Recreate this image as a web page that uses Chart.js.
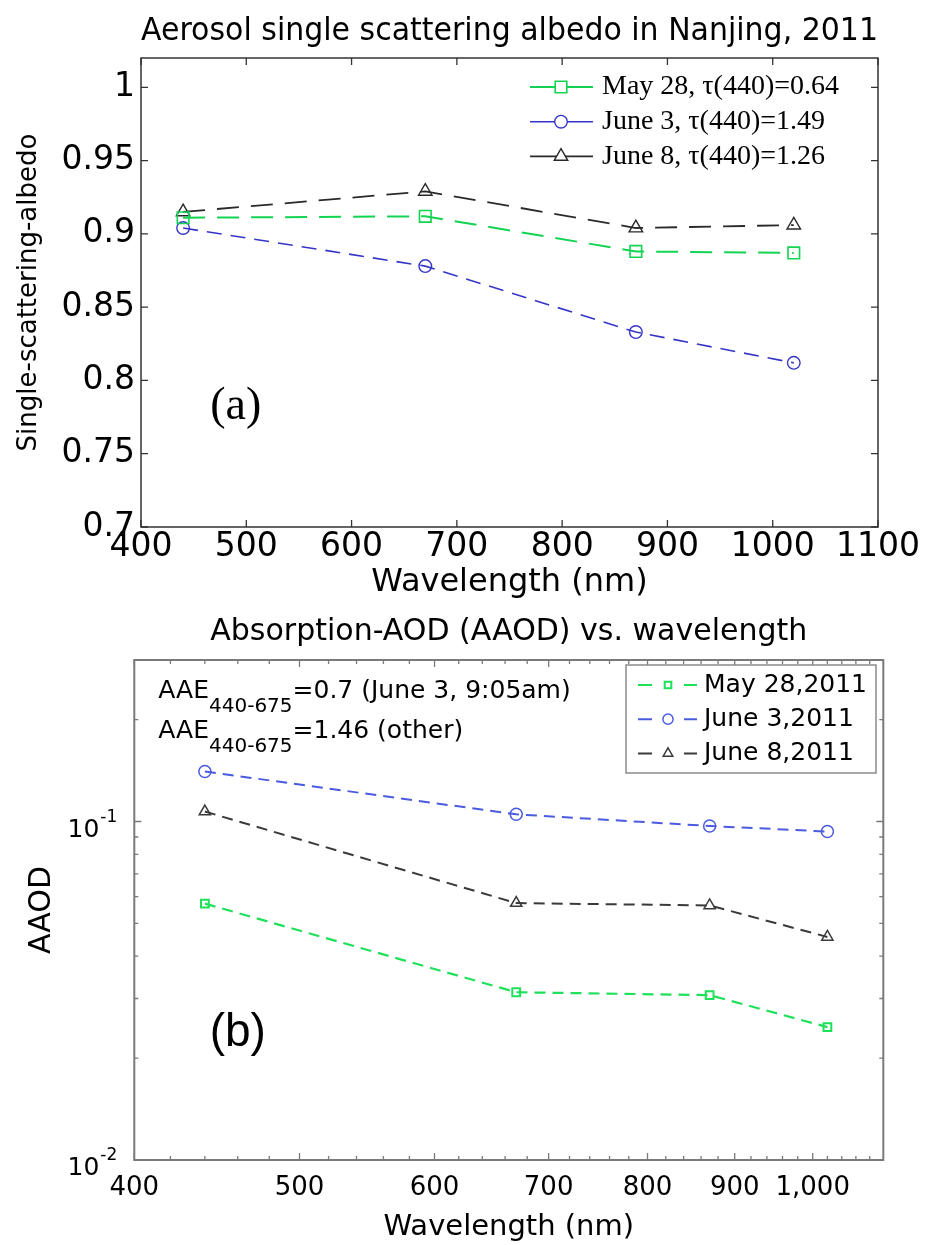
<!DOCTYPE html>
<html>
<head>
<meta charset="utf-8">
<script src="https://cdn.jsdelivr.net/npm/chart.js@4.4.0/dist/chart.umd.min.js"></script>
<style>
  html, body { margin: 0; padding: 0; background: #fff; }
  #wrap { position: relative; width: 934px; height: 1245px; }
  canvas { position: absolute; left: 0; }
</style>
</head>
<body>
<div id="wrap">
  <canvas id="ssaChart" width="934" height="612" style="top:0;width:934px;height:612px"></canvas>
  <canvas id="aaodChart" width="934" height="633" style="top:612px;width:934px;height:633px"></canvas>
</div>
<script>
// wavelengths (nm) shared by both panels
const wavelengths = [440, 670, 870, 1020];

// (a) single scattering albedo
const ssaMay28 = [0.911, 0.912, 0.888, 0.887];
const ssaJune3 = [0.904, 0.878, 0.833, 0.812];
const ssaJune8 = [0.915, 0.929, 0.904, 0.906];
const ssaLabels = ["May 28, τ(440)=0.64", "June 3, τ(440)=1.49", "June 8, τ(440)=1.26"];
const ssaXTicks = [400, 500, 600, 700, 800, 900, 1000, 1100];
const ssaYTicks = [0.7, 0.75, 0.8, 0.85, 0.9, 0.95, 1];
const ssaYTickLabels = ["0.7", "0.75", "0.8", "0.85", "0.9", "0.95", "1"];

// (b) absorption AOD
const aaodMay28 = [0.0572, 0.0313, 0.0307, 0.0247];
const aaodJune3 = [0.1405, 0.105, 0.097, 0.0934];
const aaodJune8 = [0.107, 0.0574, 0.0565, 0.0456];
const aaodLabels = ["May 28,2011", "June 3,2011", "June 8,2011"];
const aaodXTicks = [400, 500, 600, 700, 800, 900, 1000];
const aaodXTickLabels = ["400", "500", "600", "700", "800", "900", "1,000"];
const aaodYTicks = [0.01, 0.1];
const aaodYTickExp = ["-2", "-1"];
const aaodYMinor = [0.02, 0.03, 0.04, 0.05, 0.06, 0.07, 0.08, 0.09, 0.2, 0.3];

const SANS = '"DejaVu Sans", sans-serif';
const SERIF = '"Liberation Serif", serif';

const pts = (ys) => wavelengths.map((w, i) => ({ x: w, y: ys[i] }));

function markerPath(ctx, style, r, x, y) {
  ctx.beginPath();
  if (style === "rect") {
    const s = r * Math.SQRT1_2;
    ctx.rect(x - s, y - s, 2 * s, 2 * s);
  } else if (style === "triangle") {
    ctx.moveTo(x, y - r);
    ctx.lineTo(x + r * 0.866, y + r * 0.5);
    ctx.lineTo(x - r * 0.866, y + r * 0.5);
    ctx.closePath();
  } else {
    ctx.arc(x, y, r, 0, Math.PI * 2);
  }
}

// matlab style box with inward ticks on all four sides
const boxTicks = {
  id: "boxTicks",
  afterDraw(chart, args, o) {
    const { ctx, chartArea: a, scales } = chart;
    const sx = scales.x, sy = scales.y;
    ctx.save();
    ctx.strokeStyle = o.color;
    ctx.lineWidth = o.tickWidth;
    ctx.beginPath();
    const xt = (v, len) => {
      const p = sx.getPixelForValue(v);
      ctx.moveTo(p, a.bottom); ctx.lineTo(p, a.bottom - len);
      ctx.moveTo(p, a.top); ctx.lineTo(p, a.top + len);
    };
    const yt = (v, len) => {
      const p = sy.getPixelForValue(v);
      ctx.moveTo(a.left, p); ctx.lineTo(a.left + len, p);
      ctx.moveTo(a.right, p); ctx.lineTo(a.right - len, p);
    };
    (o.xMajor || []).forEach(v => xt(v, o.major));
    (o.xMinor || []).forEach(v => xt(v, o.minor));
    (o.yMajor || []).forEach(v => yt(v, o.major));
    (o.yMinor || []).forEach(v => yt(v, o.minor));
    ctx.stroke();
    ctx.lineWidth = o.boxWidth;
    ctx.strokeRect(a.left, a.top, a.right - a.left, a.bottom - a.top);
    ctx.restore();
  }
};

// legend drawn inside the axes, like the original figure
const innerLegend = {
  id: "innerLegend",
  afterDraw(chart, args, o) {
    if (!o.top) return;
    const { ctx } = chart;
    ctx.save();
    if (o.box) {
      ctx.fillStyle = "#fff";
      ctx.fillRect(o.box[0], o.box[1], o.box[2] - o.box[0], o.box[3] - o.box[1]);
      ctx.strokeStyle = o.boxColor;
      ctx.lineWidth = 1.5;
      ctx.strokeRect(o.box[0], o.box[1], o.box[2] - o.box[0], o.box[3] - o.box[1]);
    }
    chart.data.datasets.forEach((ds, i) => {
      const y = o.top + i * o.gap;
      ctx.strokeStyle = ds.borderColor;
      ctx.lineWidth = ds.borderWidth;
      ctx.setLineDash([]);
      ctx.beginPath();
      if (o.split) {
        ctx.moveTo(o.lineFrom, y); ctx.lineTo(o.markerX - o.split, y);
        ctx.moveTo(o.markerX + o.split, y); ctx.lineTo(o.lineTo, y);
      } else {
        ctx.moveTo(o.lineFrom, y); ctx.lineTo(o.lineTo, y);
      }
      ctx.stroke();
      ctx.lineWidth = ds.pointBorderWidth;
      ctx.fillStyle = "#fff";
      markerPath(ctx, ds.pointStyle, ds.pointRadius * o.markerScale, o.markerX, y);
      ctx.fill();
      ctx.stroke();
      ctx.fillStyle = "#000";
      ctx.font = o.font;
      ctx.textBaseline = "middle";
      ctx.textAlign = "left";
      ctx.fillText(ds.label, o.textX, y);
    });
    ctx.restore();
  }
};

// panel letters, text notes and power-of-ten tick labels
const notes = {
  id: "notes",
  afterDraw(chart, args, o) {
    const { ctx, chartArea: a, scales } = chart;
    ctx.save();
    ctx.fillStyle = "#000";
    (o.labels || []).forEach(l => {
      ctx.font = l.font;
      ctx.textAlign = "center";
      ctx.textBaseline = "middle";
      ctx.fillText(l.text, scales.x.getPixelForValue(l.x), scales.y.getPixelForValue(l.y));
    });
    (o.rich || []).forEach(line => {
      let x = a.left + line.dx;
      ctx.textAlign = "left";
      ctx.textBaseline = "alphabetic";
      line.parts.forEach(p => {
        ctx.font = p.font;
        ctx.fillText(p.t, x, a.top + line.dy + (p.dy || 0));
        x += ctx.measureText(p.t).width;
      });
    });
    if (o.powers) {
      const p = o.powers;
      p.values.forEach((v, i) => {
        const y = scales.y.getPixelForValue(v);
        const right = a.left - p.gap;
        ctx.font = p.expFont;
        const ew = ctx.measureText(p.exps[i]).width;
        ctx.textBaseline = "alphabetic";
        ctx.textAlign = "left";
        ctx.fillText(p.exps[i], right - ew, y + p.expDy);
        ctx.font = p.baseFont;
        ctx.textAlign = "right";
        ctx.fillText("10", right - ew - 1, y + p.baseDy);
      });
    }
    ctx.restore();
  }
};

function series(label, ys, color, style, radius, width, dash, pw) {
  return {
    label: label,
    data: pts(ys),
    borderColor: color,
    borderWidth: width,
    borderDash: dash,
    pointStyle: style,
    pointRadius: radius,
    pointBorderWidth: pw,
    pointBorderColor: color,
    pointBackgroundColor: "rgba(0,0,0,0)",
    fill: false,
    tension: 0,
  };
}

// ---------- (a) ----------
new Chart(document.getElementById("ssaChart"), {
  type: "line",
  data: {
    datasets: [
      series(ssaLabels[0], ssaMay28, "#12d452", "rect", 8.2, 2, [22, 12], 1.6),
      series(ssaLabels[1], ssaJune3, "#3535c8", "circle", 6.3, 1.6, [15, 9], 1.4),
      series(ssaLabels[2], ssaJune8, "#2a2a2a", "triangle", 7.8, 1.8, [22, 12], 1.4),
    ],
  },
  options: {
    responsive: false,
    animation: false,
    devicePixelRatio: 1,
    layout: { padding: { left: 0, right: 56, top: 0, bottom: 0 } },
    plugins: {
      legend: { display: false },
      tooltip: { enabled: false },
      title: {
        display: true,
        fullSize: false,
        text: "Aerosol single scattering albedo in Nanjing, 2011",
        color: "#000",
        font: { family: SANS, size: 32, weight: "normal" },
        padding: { top: 12.5, bottom: 7.1 },
      },
      boxTicks: { color: "#333", tickWidth: 1.3, boxWidth: 1.5, major: 7, minor: 0,
        xMajor: ssaXTicks, yMajor: ssaYTicks },
      innerLegend: { top: 87, gap: 34.7, lineFrom: 530, lineTo: 593, markerX: 561, textX: 602,
        markerScale: 1, font: "28px " + SERIF },
      notes: { labels: [{ text: "(a)", x: 490, y: 0.782, font: "46px " + SERIF }] },
    },
    scales: {
      x: {
        type: "linear", min: 400, max: 1100, bounds: "data",
        afterBuildTicks: s => { s.ticks = ssaXTicks.map(v => ({ value: v })); },
        afterFit: s => { s.height = 85; },
        grid: { display: false, drawTicks: false },
        border: { display: false },
        ticks: { color: "#000", font: { family: SANS, size: 33 }, padding: 1, maxRotation: 0, autoSkip: false,
          callback: v => String(v) },
        title: { display: true, text: "Wavelength (nm)", color: "#000",
          font: { family: SANS, size: 32 }, padding: { top: 0, bottom: 9.8 } },
      },
      y: {
        type: "linear", min: 0.7, max: 1.02, bounds: "data",
        afterBuildTicks: s => { s.ticks = ssaYTicks.map(v => ({ value: v })); },
        afterFit: s => { s.width = 141; },
        grid: { display: false, drawTicks: false },
        border: { display: false },
        ticks: { color: "#000", font: { family: SANS, size: 33 }, padding: 6, autoSkip: false,
          callback: (v, i) => ssaYTickLabels[i] },
        title: { display: true, text: "Single-scattering-albedo", color: "#000",
          font: { family: SANS, size: 26 }, padding: { top: 14, bottom: 0 } },
      },
    },
  },
  plugins: [boxTicks, innerLegend, notes],
});

// ---------- (b) ----------
const xMinorB = [];
for (let v = 420; v < 1100; v += 20) if (v % 100 !== 0) xMinorB.push(v);

new Chart(document.getElementById("aaodChart"), {
  type: "line",
  data: {
    datasets: [
      series(aaodLabels[0], aaodMay28, "#1ee05a", "rect", 5.5, 2.2, [11, 7], 2),
      series(aaodLabels[1], aaodJune3, "#4b5be0", "circle", 6, 2, [11, 7], 1.5),
      series(aaodLabels[2], aaodJune8, "#3a3a3a", "triangle", 6.5, 2, [11, 7], 1.5),
    ],
  },
  options: {
    responsive: false,
    animation: false,
    devicePixelRatio: 1,
    layout: { padding: { left: 0, right: 50.7, top: 0, bottom: 0 } },
    plugins: {
      legend: { display: false },
      tooltip: { enabled: false },
      title: {
        display: true,
        fullSize: false,
        text: "Absorption-AOD (AAOD) vs. wavelength",
        color: "#000",
        font: { family: SANS, size: 30, weight: "normal" },
        padding: { top: 2, bottom: 10 },
      },
      boxTicks: { color: "#7a7a7a", tickWidth: 1.3, boxWidth: 2, major: 7, minor: 4,
        xMajor: aaodXTicks, xMinor: xMinorB, yMajor: aaodYTicks, yMinor: aaodYMinor },
      innerLegend: { box: [626, 53, 876, 161], boxColor: "#8a8a8a",
        top: 73, gap: 34.2, lineFrom: 638, lineTo: 697, markerX: 668, split: 16, textX: 704,
        markerScale: 0.85, font: "25px " + SANS },
      notes: {
        labels: [{ text: "(b)", x: 460, y: 0.0237, font: "46px \"Liberation Sans\", sans-serif" }],
        rich: [
          { dx: 24, dy: 37.7, parts: [
            { t: "AAE", font: "25px " + SANS },
            { t: "440-675", font: "20px " + SANS, dy: 14 },
            { t: "=0.7 (June 3, 9:05am)", font: "25px " + SANS } ] },
          { dx: 24, dy: 78.3, parts: [
            { t: "AAE", font: "25px " + SANS },
            { t: "440-675", font: "20px " + SANS, dy: 14 },
            { t: "=1.46 (other)", font: "25px " + SANS } ] },
        ],
        powers: { values: aaodYTicks, exps: aaodYTickExp, gap: 17,
          baseFont: "25px " + SANS, expFont: "17px " + SANS, baseDy: 15, expDy: 0 },
      },
    },
    scales: {
      x: {
        type: "logarithmic", min: 400, max: 1100, bounds: "data",
        afterBuildTicks: s => { s.ticks = aaodXTicks.map(v => ({ value: v })); },
        afterFit: s => { s.height = 85; },
        grid: { display: false, drawTicks: false },
        border: { display: false },
        ticks: { color: "#000", font: { family: SANS, size: 26 }, padding: 13, maxRotation: 0, autoSkip: false,
          callback: (v, i) => aaodXTickLabels[i] },
        title: { display: true, text: "Wavelength (nm)", color: "#000",
          font: { family: SANS, size: 29 }, padding: { top: 0, bottom: 0 } },
      },
      y: {
        type: "logarithmic", min: 0.01, max: 0.3, bounds: "data",
        afterBuildTicks: s => { s.ticks = aaodYTicks.map(v => ({ value: v })); },
        afterFit: s => { s.width = 134.3; },
        grid: { display: false, drawTicks: false },
        border: { display: false },
        ticks: { display: false },
        title: { display: true, text: "AAOD", color: "#000",
          font: { family: SANS, size: 30 }, padding: { top: 24, bottom: 0 } },
      },
    },
  },
  plugins: [boxTicks, innerLegend, notes],
});
</script>
</body>
</html>
